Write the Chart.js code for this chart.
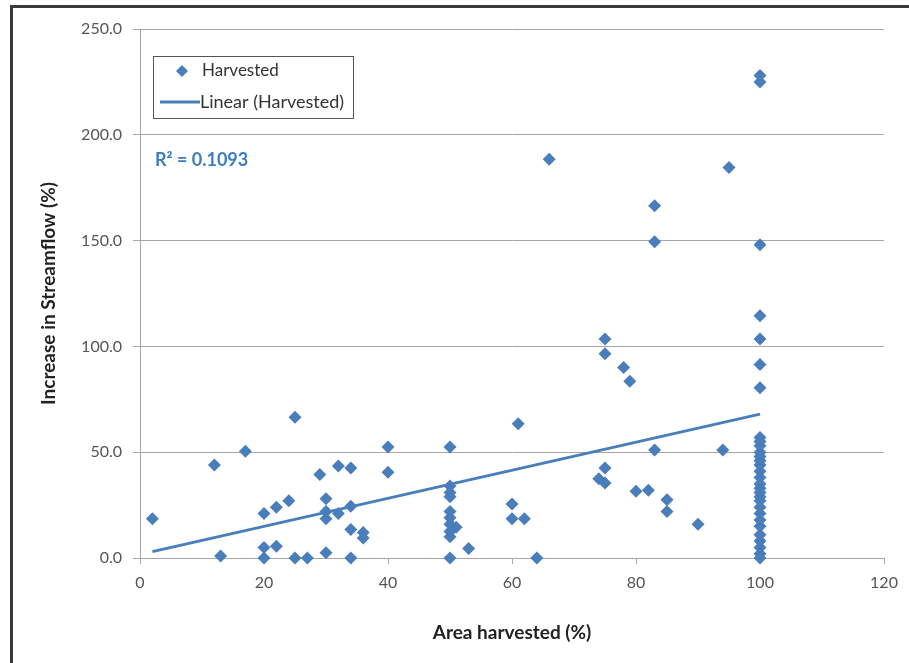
<!DOCTYPE html>
<html>
<head>
<meta charset="utf-8">
<script src="https://cdn.jsdelivr.net/npm/chart.js@4/dist/chart.umd.min.js"></script>
<style>
  html, body { margin: 0; padding: 0; background: #fff; }
  #wrap { width: 909px; height: 663px; position: relative; }
</style>
</head>
<body>
<div id="wrap"><canvas id="myChart"></canvas></div>
<script>
// Area harvested (%) vs increase in streamflow (%)
var areaHarvested = [
  2, 12, 13, 17, 20, 20, 20, 22, 22, 24, 25, 25, 27, 29,
  30, 30, 30, 30, 32, 32, 34, 34, 34, 34, 36, 36, 40, 40,
  50, 50, 50, 50, 50, 50, 50, 50, 50, 50, 51, 53,
  60, 60, 61, 62, 64, 66, 74, 75, 75, 75, 75, 78, 79, 80, 82,
  83, 83, 83, 85, 85, 90, 94, 95,
  100, 100, 100, 100, 100, 100, 100, 100, 100, 100, 100, 100, 100, 100, 100,
  100, 100, 100, 100, 100, 100, 100, 100, 100, 100, 100, 100, 100, 100, 100
];
var streamflowIncrease = [
  18.5, 44, 1, 50.5, 0, 5, 21, 5.5, 24, 27, 66.5, 0, 0, 39.5,
  28, 22, 18.5, 2.5, 43.5, 21, 42.5, 24.5, 13.5, 0, 12, 9.5, 52.5, 40.5,
  52.5, 34, 31, 29, 22, 19, 16, 12.5, 10, 0, 14.5, 4.5,
  25.5, 18.5, 63.5, 18.5, 0, 188.5, 37.5, 42.5, 35.5, 103.5, 96.5, 90, 83.5, 31.5, 32,
  51, 149.5, 166.5, 27.5, 22, 16, 51, 184.5,
  228, 225, 148, 114.5, 103.5, 91.5, 80.5, 57, 55, 53, 50, 48, 46, 44, 41,
  38, 35, 33, 31, 29, 27, 24, 21, 18, 15, 11, 8, 5, 2, 0
];
// linear trend line end points
var trendX = [2, 100];
var trendY = [3, 68];
var yTicks = [0, 50, 100, 150, 200, 250];
var xTicks = [0, 20, 40, 60, 80, 100, 120];
var rSquared = 'R\u00B2 = 0.1093';

var blue = '#4a7ebb';
var fontFamily = 'Lato, "Liberation Sans", sans-serif';

var points = areaHarvested.map(function(x, i) {
  return { x: x, y: streamflowIncrease[i] };
});
var trend = trendX.map(function(x, i) {
  return { x: x, y: trendY[i] };
});

// frame, legend box and R squared label
var extras = {
  id: 'extras',
  beforeDraw: function(chart) {
    var c = chart.ctx;
    c.save();
    c.fillStyle = '#fff';
    c.fillRect(0, 0, chart.width, chart.height);
    c.restore();
  },
  afterDraw: function(chart) {
    var c = chart.ctx;
    c.save();
    // outer frame (top + left)
    c.strokeStyle = '#3a3a3a';
    c.lineWidth = 3;
    c.beginPath();
    c.moveTo(11.5, chart.height);
    c.lineTo(11.5, 6.5);
    c.lineTo(chart.width, 6.5);
    c.stroke();

    // legend box
    c.strokeStyle = '#555';
    c.lineWidth = 1;
    c.strokeRect(153.5, 56.5, 200, 62);
    c.fillStyle = blue;
    c.beginPath();
    c.moveTo(182, 65);
    c.lineTo(188, 71);
    c.lineTo(182, 77);
    c.lineTo(176, 71);
    c.closePath();
    c.fill();
    c.strokeStyle = blue;
    c.lineWidth = 3;
    c.beginPath();
    c.moveTo(160, 102);
    c.lineTo(200, 102);
    c.stroke();
    c.fillStyle = '#333';
    c.font = '17px ' + fontFamily;
    c.textBaseline = 'middle';
    c.fillText('Harvested', 202, 71);
    c.font = '18px ' + fontFamily;
    c.fillText('Linear (Harvested)', 200, 102);

    // R squared
    c.fillStyle = '#3d7cc3';
    c.font = 'bold 18px ' + fontFamily;
    c.fillText(rSquared, 155, 160);
    c.restore();
  }
};

var ctx = document.getElementById('myChart').getContext('2d');
var chart = new Chart(ctx, {
  type: 'scatter',
  data: {
    datasets: [{
      label: 'Harvested',
      data: points,
      backgroundColor: blue,
      borderColor: blue,
      pointStyle: 'rectRot',
      pointRadius: 6.5,
      pointHoverRadius: 6.5,
      borderWidth: 0,
      clip: false
    }, {
      label: 'Linear (Harvested)',
      type: 'line',
      data: trend,
      showLine: true,
      borderColor: blue,
      borderWidth: 3,
      pointRadius: 0,
      fill: false
    }]
  },
  options: {
    responsive: true,
    maintainAspectRatio: false,
    animation: false,
    layout: { padding: { top: 29, right: 25, left: 0, bottom: 0 } },
    plugins: {
      legend: { display: false },
      tooltip: { enabled: false }
    },
    scales: {
      x: {
        type: 'linear',
        min: 0,
        max: 120,
        afterBuildTicks: function(scale) {
          scale.ticks = xTicks.map(function(v) { return { value: v }; });
        },
        afterFit: function(scale) { scale.height = 105; },
        grid: { drawOnChartArea: false, color: '#a6a6a6', tickLength: 6 },
        border: { color: '#a6a6a6' },
        ticks: { color: '#555', padding: 9, font: { family: fontFamily, size: 16 } },
        title: {
          display: true,
          text: 'Area harvested (%)',
          color: '#222',
          font: { family: fontFamily, size: 19, weight: 'bold' },
          padding: { bottom: 19 }
        }
      },
      y: {
        min: 0,
        max: 250,
        afterBuildTicks: function(scale) {
          scale.ticks = yTicks.map(function(v) { return { value: v }; });
        },
        afterFit: function(scale) { scale.width = 140; },
        grid: { color: '#a6a6a6', tickLength: 7 },
        border: { color: '#a6a6a6' },
        ticks: {
          color: '#555',
          padding: 11,
          font: { family: fontFamily, size: 16 },
          callback: function(v) { return v.toFixed(1); }
        },
        title: {
          display: true,
          text: 'Increase in Streamflow (%)',
          color: '#222',
          font: { family: fontFamily, size: 19, weight: 'bold' },
          padding: { top: 37 }
        }
      }
    }
  },
  plugins: [extras]
});
</script>
</body>
</html>
